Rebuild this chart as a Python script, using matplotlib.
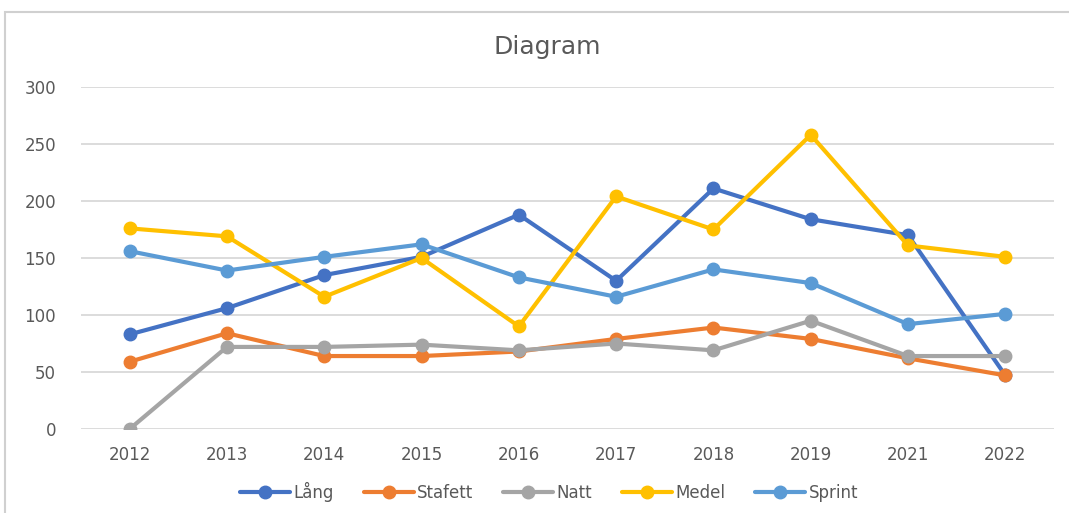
import matplotlib.pyplot as plt
from matplotlib.patches import Rectangle

years = ['2012', '2013', '2014', '2015', '2016', '2017', '2018', '2019', '2021', '2022']
lang = [83, 106, 135, 151, 188, 130, 211, 184, 170, 47]
stafett = [59, 84, 64, 64, 68, 79, 89, 79, 62, 47]
natt = [0, 72, 72, 74, 69, 75, 69, 95, 64, 64]
medel = [176, 169, 116, 150, 90, 204, 175, 258, 161, 151]
sprint = [156, 139, 151, 162, 133, 116, 140, 128, 92, 101]

series = [('Lång', lang, '#4472C4'),
          ('Stafett', stafett, '#ED7D31'),
          ('Natt', natt, '#A5A5A5'),
          ('Medel', medel, '#FFC000'),
          ('Sprint', sprint, '#5B9BD5')]

text_color = '#595959'

fig = plt.figure(figsize=(10.69, 5.13), dpi=100)
fig.patches.append(Rectangle((5 / 1069, -0.1), 1.2, (513 - 12) / 513 + 0.1,
                             transform=fig.transFigure, fill=False,
                             edgecolor='#D0D0D0', linewidth=1.5))
ax = fig.add_axes([81 / 1069, 84 / 513, 973 / 1069, 342 / 513])

x = list(range(len(years)))
for name, vals, col in series:
    ax.plot(x, vals, color=col, linewidth=3.0, marker='o', markersize=9,
            label=name, solid_capstyle='round')

ax.set_xlim(-0.5, len(years) - 0.5)
ax.set_ylim(0, 300)
ax.set_yticks(range(0, 301, 50))
ax.set_xticks(x)
ax.set_xticklabels(years)
ax.grid(axis='y', color='#D9D9D9', linewidth=1.3)
ax.set_axisbelow(True)
for s in ax.spines.values():
    s.set_visible(False)
ax.tick_params(axis='both', length=0, labelsize=12, labelcolor=text_color)
ax.tick_params(axis='y', pad=18)
ax.tick_params(axis='x', pad=12)

fig.text(547 / 1069, 1 - 47 / 513, 'Diagram', ha='center', va='center',
         fontsize=18, color=text_color)

fig.legend(loc='center', bbox_to_anchor=(549 / 1069, 1 - 492 / 513), ncol=5,
           frameon=False, fontsize=12, labelcolor=text_color,
           handlelength=3.0, handletextpad=0.2, columnspacing=1.8)

fig.savefig('out.png', dpi=100)
